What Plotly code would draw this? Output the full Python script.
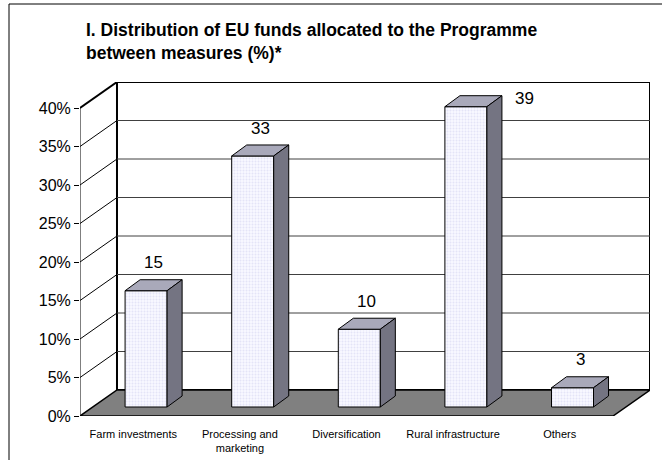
import plotly.graph_objects as go

# ---- data ----
categories = ["Farm investments", "Processing and<br>marketing", "Diversification",
              "Rural infrastructure", "Others"]
values = [15.1, 32.6, 10.1, 39.0, 2.5]          # bar heights (%)
value_labels = ["15", "33", "10", "39", "3"]     # printed data labels
ytick_vals = [0, 5, 10, 15, 20, 25, 30, 35, 40]
ytick_text = ["0%", "5%", "10%", "15%", "20%", "25%", "30%", "35%", "40%"]
title_lines = ["I. Distribution of EU funds allocated to the Programme",
               "between measures (%)*"]

# ---- 3D-look geometry (in axis units) ----
YMAX = 40
DX, DY = 0.347, 3.377        # depth of floor / walls
FX, FY = 0.120, 1.169        # offset of bar front from front plane
BX, BY = 0.141, 1.429        # depth of each bar
BW = 0.394                   # bar width
X0, X1 = -0.5, len(categories) - 0.5
FONT = "Liberation Sans, Arial, sans-serif"

fig = go.Figure()

# front faces of bars
xs = [i + FX for i in range(len(values))]
fig.add_trace(go.Bar(
    x=xs, y=values, base=FY, width=BW,
    marker=dict(color="#F4F4FF", line=dict(color="black", width=1),
                pattern=dict(shape=".", fgcolor="#CFCFF0", bgcolor="#F8F8FF",
                             size=3, solidity=0.35)),
    hoverinfo="skip", showlegend=False))

# top and side faces
for xc, v in zip(xs, values):
    xl, xr = xc - BW / 2, xc + BW / 2
    yb, yt = FY, FY + v
    fig.add_trace(go.Scatter(
        x=[xl, xr, xr + BX, xl + BX, xl], y=[yt, yt, yt + BY, yt + BY, yt],
        fill="toself", fillcolor="#A9A9BA", mode="lines",
        line=dict(color="black", width=1), hoverinfo="skip", showlegend=False))
    fig.add_trace(go.Scatter(
        x=[xr, xr + BX, xr + BX, xr, xr], y=[yb, yb + BY, yt + BY, yt, yb],
        fill="toself", fillcolor="#747482", mode="lines",
        line=dict(color="black", width=1), hoverinfo="skip", showlegend=False))

shapes = []
# back wall
shapes.append(dict(type="rect", xref="x", yref="y", x0=X0 + DX, x1=X1 + DX,
                   y0=DY, y1=YMAX + DY, fillcolor="white",
                   line=dict(color="black", width=2), layer="below"))
# gridlines on back wall
for v in ytick_vals[1:-1]:
    shapes.append(dict(type="line", xref="x", yref="y", x0=X0 + DX, x1=X1 + DX,
                       y0=v + DY, y1=v + DY, line=dict(color="#404040", width=1),
                       layer="below"))
# side wall slant lines
for v in ytick_vals[1:-1]:
    shapes.append(dict(type="line", xref="x", yref="y", x0=X0, x1=X0 + DX,
                       y0=v, y1=v + DY, line=dict(color="black", width=1),
                       layer="below"))
shapes.append(dict(type="line", xref="x", yref="y", x0=X0, x1=X0 + DX,
                   y0=YMAX, y1=YMAX + DY, line=dict(color="black", width=2),
                   layer="below"))
# front vertical axis
shapes.append(dict(type="line", xref="x", yref="y", x0=X0, x1=X0, y0=0, y1=YMAX,
                   line=dict(color="black", width=1), layer="below"))
# floor
shapes.append(dict(type="path", xref="x", yref="y",
                   path=f"M {X0} 0 L {X1} 0 L {X1 + DX} {DY} L {X0 + DX} {DY} Z",
                   fillcolor="#808080", line=dict(color="black", width=1.5),
                   layer="below"))

# figure border (left and top)
W, H = 662, 460
L, R, T, B = 80, 12, 82, 44
pw, ph = W - L - R, H - T - B
def px(x):
    return (x - L) / pw
def py(y):
    return (H - B - y) / ph
shapes.append(dict(type="line", xref="paper", yref="paper", x0=px(9), x1=px(W + 5),
                   y0=py(4), y1=py(4), line=dict(color="black", width=1)))
shapes.append(dict(type="line", xref="paper", yref="paper", x0=px(9), x1=px(9),
                   y0=py(4), y1=py(H + 5), line=dict(color="black", width=1)))

annotations = []
# value labels
YTOP = YMAX + DY
LABEL_GAP = 2.2
for xc, v, lab in zip(xs, values, value_labels):
    ly = v + FY + BY + LABEL_GAP
    if ly + 1.2 > YTOP:
        annotations.append(dict(x=xc + BW / 2 + BX + 0.10, y=v + FY + BY - 0.4,
                                xref="x", yref="y", text=lab, showarrow=False,
                                xanchor="left", yanchor="middle",
                                font=dict(family=FONT, size=17, color="black")))
    else:
        annotations.append(dict(x=xc + BX / 2, y=ly, xref="x", yref="y",
                                text=lab, showarrow=False,
                                xanchor="center", yanchor="middle",
                                font=dict(family=FONT, size=17, color="black")))
# title
for t, yy in zip(title_lines, [30, 53]):
    annotations.append(dict(x=px(84), y=py(yy), xref="paper", yref="paper",
                            text=f"<b>{t}</b>", showarrow=False,
                            xanchor="left", yanchor="middle",
                            font=dict(family=FONT, size=17.5, color="black")))

fig.update_layout(
    width=W, height=H, autosize=False,
    margin=dict(l=L, r=R, t=T, b=B, pad=0),
    plot_bgcolor="white", paper_bgcolor="white",
    shapes=shapes, annotations=annotations, bargap=0,
    xaxis=dict(range=[X0, X1 + DX], tickvals=list(range(len(categories))),
               ticktext=categories, showgrid=False, zeroline=False, showline=False,
               ticks="", ticklabelstandoff=10, automargin=False,
               tickfont=dict(family=FONT, size=11, color="black"), fixedrange=True),
    yaxis=dict(range=[0, YTOP], tickvals=ytick_vals, ticktext=ytick_text,
               showgrid=False, zeroline=False, showline=False, automargin=False,
               ticks="outside", ticklen=5, tickcolor="black", tickwidth=1,
               tickfont=dict(family=FONT, size=16, color="black"), fixedrange=True),
)

fig.write_html("out.html",
               config={"displayModeBar": False, "staticPlot": True},
               post_script="document.body.style.margin='0';"
                           "document.body.style.overflow='hidden';")
